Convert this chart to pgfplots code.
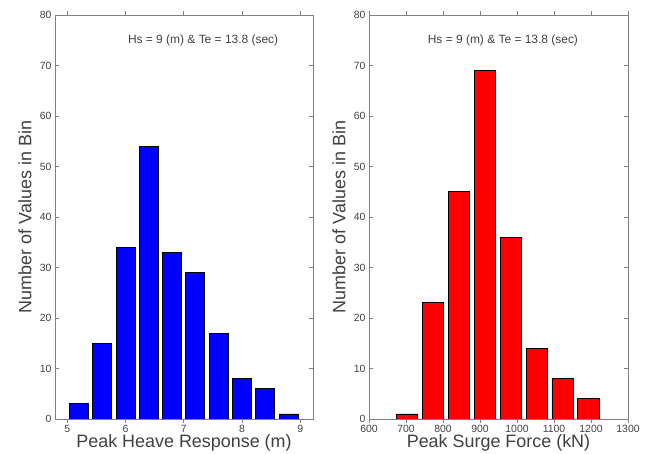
\documentclass[border=0pt]{standalone}
\usepackage{pgfplots}
\pgfplotsset{compat=1.18}
\usepackage{fontspec}
\setmainfont{Liberation Sans}
\definecolor{axgray}{RGB}{128,128,128}
\definecolor{txtgray}{RGB}{64,64,64}
\pgfplotsset{
  hist/.style={
    scale only axis,
    height=404bp,
    ymin=0, ymax=80,
    ytick={0,10,...,80},
    tick align=inside,
    major tick length=4bp,
    axis line style={axgray, line width=0.9pt},
    tick style={axgray, line width=0.6pt},
    ticklabel style={font=\fontsize{10.5}{11}\selectfont, text=txtgray},
    xticklabel style={yshift=1.5bp},
    /pgf/number format/assume math mode=true,
    /pgf/number format/1000 sep={},
    ylabel={Number of Values in Bin},
    ylabel style={font=\fontsize{18}{20}\selectfont, text=txtgray, at={(axis description cs:-0.116,0.5)}, anchor=center},
    xlabel style={font=\fontsize{18}{20}\selectfont, text=txtgray, at={(axis description cs:0.5,-0.059)}, anchor=center},
    ybar, bar shift=0pt,
  }
}
\begin{document}
\begin{tikzpicture}
\path[use as bounding box] (0,0) rectangle (651bp,454bp);
\begin{axis}[hist,
  at={(55bp,35bp)}, anchor=south west,
  width=258bp,
  xmin=4.79, xmax=9.22,
  xtick={5,6,7,8,9},
  bar width=0.325,
  xlabel={Peak Heave Response (m)},
]
\addplot[fill={rgb,255:red,0;green,0;blue,255}, draw=black, line width=0.8pt] coordinates {
(5.2,3) (5.6,15) (6.0,34) (6.4,54) (6.8,33) (7.2,29) (7.6,17) (8.0,8) (8.4,6) (8.8,1)};
\node[font=\fontsize{12}{14}\selectfont, text=txtgray] at (axis description cs:0.574,0.936) {Hs = 9 (m) \& Te = 13.8 (sec)};
\end{axis}
\begin{axis}[hist,
  at={(369bp,35bp)}, anchor=south west,
  width=259bp,
  xmin=600, xmax=1300,
  xtick={600,700,...,1300},
  bar width=57,
  xlabel={Peak Surge Force (kN)},
]
\addplot[fill={rgb,255:red,255;green,0;blue,0}, draw=black, line width=0.8pt] coordinates {
(703,1) (773,23) (843,45) (913,69) (983,36) (1053,14) (1123,8) (1193,4)};
\node[font=\fontsize{12}{14}\selectfont, text=txtgray] at (axis description cs:0.517,0.936) {Hs = 9 (m) \& Te = 13.8 (sec)};
\end{axis}
\end{tikzpicture}
\end{document}
